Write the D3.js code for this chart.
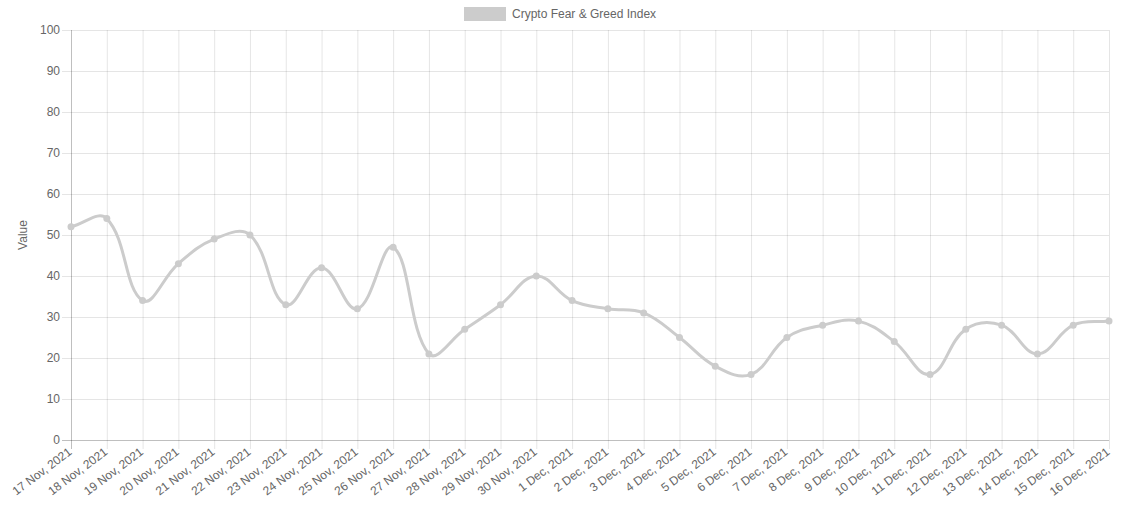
<!DOCTYPE html>
<html>
<head>
<meta charset="utf-8">
<script src="https://cdn.jsdelivr.net/npm/d3@7"></script>
<style>
  body { margin: 0; background: #fff; }
  svg { display: block; font-family: "Liberation Sans", Arial, sans-serif; }
</style>
</head>
<body>
<div id="chart"></div>
<script>
// data
var dates = ["17 Nov, 2021", "18 Nov, 2021", "19 Nov, 2021", "20 Nov, 2021", "21 Nov, 2021",
  "22 Nov, 2021", "23 Nov, 2021", "24 Nov, 2021", "25 Nov, 2021", "26 Nov, 2021",
  "27 Nov, 2021", "28 Nov, 2021", "29 Nov, 2021", "30 Nov, 2021", "1 Dec, 2021",
  "2 Dec, 2021", "3 Dec, 2021", "4 Dec, 2021", "5 Dec, 2021", "6 Dec, 2021",
  "7 Dec, 2021", "8 Dec, 2021", "9 Dec, 2021", "10 Dec, 2021", "11 Dec, 2021",
  "12 Dec, 2021", "13 Dec, 2021", "14 Dec, 2021", "15 Dec, 2021", "16 Dec, 2021"];
var indexValues = [52, 54, 34, 43, 49, 50, 33, 42, 32, 47, 21, 27, 33, 40, 34,
  32, 31, 25, 18, 16, 25, 28, 29, 24, 16, 27, 28, 21, 28, 29];
var yTicks = [0, 10, 20, 30, 40, 50, 60, 70, 80, 90, 100];
var seriesName = "Crypto Fear & Greed Index";

var svgWidth = 1125;
var svgHeight = 507;
var margin = { top: 30, right: 16, bottom: 67, left: 71 };
var width = svgWidth - margin.left - margin.right;
var height = svgHeight - margin.top - margin.bottom;

var svg = d3.select("#chart")
  .append("svg")
  .attr("width", svgWidth)
  .attr("height", svgHeight);

var chartGroup = svg.append("g")
  .attr("transform", `translate(${margin.left}, ${margin.top})`);

var xScale = d3.scalePoint()
  .domain(dates)
  .range([0, width]);

var yScale = d3.scaleLinear()
  .domain([0, 100])
  .range([height, 0]);

// spline like chart.js (tension 0.4, distance weighted)
function splineCurve(context) {
  var pts;
  return {
    areaStart: function() {},
    areaEnd: function() {},
    lineStart: function() { pts = []; },
    point: function(x, y) { pts.push([+x, +y]); },
    lineEnd: function() {
      var t = 0.4, n = pts.length;
      var cps = pts.map(function(p, i) {
        var prev = pts[i - 1] || p, next = pts[i + 1] || p;
        var d01 = Math.hypot(p[0] - prev[0], p[1] - prev[1]);
        var d12 = Math.hypot(next[0] - p[0], next[1] - p[1]);
        var s01 = d01 / (d01 + d12) || 0, s12 = d12 / (d01 + d12) || 0;
        var fa = t * s01, fb = t * s12;
        return {
          prev: [p[0] - fa * (next[0] - prev[0]), p[1] - fa * (next[1] - prev[1])],
          next: [p[0] + fb * (next[0] - prev[0]), p[1] + fb * (next[1] - prev[1])]
        };
      });
      context.moveTo(pts[0][0], pts[0][1]);
      for (var i = 1; i < n; i++) {
        var a = cps[i - 1].next, b = cps[i].prev;
        context.bezierCurveTo(a[0], Math.min(Math.max(a[1], 0), height),
          b[0], Math.min(Math.max(b[1], 0), height), pts[i][0], pts[i][1]);
      }
    }
  };
}

// grid lines
chartGroup.append("g")
  .selectAll("line")
  .data(yTicks)
  .enter()
  .append("line")
  .attr("x1", -9)
  .attr("x2", width)
  .attr("y1", d => yScale(d) + 0.5)
  .attr("y2", d => yScale(d) + 0.5)
  .attr("stroke", d => d === 0 ? "rgba(0,0,0,0.25)" : "rgba(0,0,0,0.1)");

chartGroup.append("g")
  .selectAll("line")
  .data(dates)
  .enter()
  .append("line")
  .attr("x1", d => xScale(d) + 0.5)
  .attr("x2", d => xScale(d) + 0.5)
  .attr("y1", 0)
  .attr("y2", height + 9)
  .attr("stroke", (d, i) => i === 0 ? "rgba(0,0,0,0.25)" : "rgba(0,0,0,0.1)");

// y tick labels
chartGroup.append("g")
  .selectAll("text")
  .data(yTicks)
  .enter()
  .append("text")
  .attr("x", -11)
  .attr("y", d => yScale(d))
  .attr("dy", "0.35em")
  .attr("text-anchor", "end")
  .attr("font-size", "12px")
  .attr("fill", "#666")
  .text(d => d);

// x tick labels, rotated
chartGroup.append("g")
  .selectAll("text")
  .data(dates)
  .enter()
  .append("text")
  .attr("transform", d => `translate(${xScale(d) - 1}, ${height + 10}) rotate(-37)`)
  .attr("text-anchor", "end")
  .attr("dy", "0.35em")
  .attr("font-size", "12px")
  .attr("fill", "#666")
  .text(d => d);

// y axis title
svg.append("text")
  .attr("transform", `translate(27, ${margin.top + height / 2}) rotate(-90)`)
  .attr("text-anchor", "middle")
  .attr("font-size", "12px")
  .attr("fill", "#666")
  .text("Value");

// line
var line = d3.line()
  .x((d, i) => xScale(dates[i]))
  .y(d => yScale(d))
  .curve(splineCurve);

chartGroup.append("path")
  .datum(indexValues)
  .attr("d", line)
  .attr("fill", "none")
  .attr("stroke", "rgba(204,204,204,1)")
  .attr("stroke-width", 3);

chartGroup.selectAll("circle")
  .data(indexValues)
  .enter()
  .append("circle")
  .attr("cx", (d, i) => xScale(dates[i]))
  .attr("cy", d => yScale(d))
  .attr("r", 3.5)
  .attr("fill", "rgba(204,204,204,1)");

// legend
var legend = svg.append("g");
legend.append("rect")
  .attr("x", 464)
  .attr("y", 7)
  .attr("width", 42)
  .attr("height", 14)
  .attr("fill", "rgba(204,204,204,1)");
legend.append("text")
  .attr("x", 512)
  .attr("y", 14)
  .attr("dy", "0.35em")
  .attr("font-size", "12px")
  .attr("fill", "#666")
  .text(seriesName);
</script>
</body>
</html>
